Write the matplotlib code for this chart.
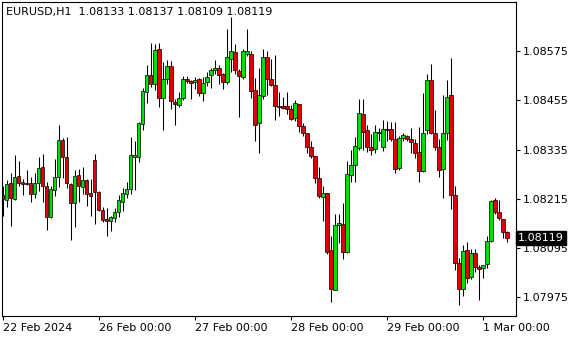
import numpy as np
import matplotlib
matplotlib.use("Agg")
import matplotlib.pyplot as plt
from matplotlib.transforms import blended_transform_factory

# EURUSD H1 candles, prices in points (1e-5)
opens = [108225, 108212, 108254, 108215, 108271, 108255, 108254, 108254, 108227, 108254,
         108293, 108247, 108170, 108236, 108269, 108359, 108318, 108252, 108205, 108274,
         108243, 108261, 108228, 108310, 108232, 108188, 108166, 108161, 108168, 108183,
         108208, 108226, 108238, 108317, 108318, 108398, 108476, 108518, 108494, 108580,
         108461, 108508, 108540, 108452, 108443, 108461, 108508, 108502, 108499, 108507,
         108474, 108501, 108516, 108529, 108533, 108519, 108501, 108557, 108574, 108527,
         108513, 108568, 108568, 108480, 108401, 108466, 108560, 108507, 108493, 108441,
         108441, 108441, 108433, 108413, 108445, 108393, 108375, 108342, 108320, 108266,
         108220, 108230, 108089, 107993, 108150, 108154, 108084, 108274, 108297, 108340,
         108421, 108382, 108342, 108337, 108376, 108342, 108384, 108384, 108362, 108290,
         108363, 108367, 108362, 108352, 108328, 108283, 108383, 108504, 108375, 108342,
         108288, 108376, 108467, 108225, 108059, 107994, 108089, 108023, 108083, 108049,
         108045, 108057, 108111, 108211, 108182, 108165, 108133]
highs = [108247, 108260, 108279, 108321, 108306, 108264, 108284, 108269, 108277, 108317,
         108323, 108255, 108247, 108313, 108394, 108364, 108366, 108254, 108286, 108287,
         108293, 108262, 108262, 108323, 108233, 108195, 108193, 108174, 108193, 108225,
         108241, 108255, 108365, 108355, 108402, 108486, 108541, 108596, 108592, 108594,
         108549, 108554, 108550, 108458, 108475, 108515, 108515, 108505, 108511, 108510,
         108511, 108524, 108533, 108554, 108541, 108521, 108629, 108658, 108592, 108531,
         108580, 108630, 108575, 108509, 108533, 108580, 108576, 108555, 108565, 108475,
         108463, 108475, 108444, 108455, 108446, 108401, 108375, 108355, 108320, 108293,
         108247, 108230, 108123, 108177, 108179, 108205, 108307, 108335, 108366, 108458,
         108458, 108396, 108374, 108396, 108388, 108406, 108405, 108402, 108402, 108368,
         108376, 108370, 108388, 108360, 108390, 108474, 108519, 108543, 108431, 108360,
         108467, 108504, 108558, 108247, 108071, 108101, 108110, 108093, 108093, 108053,
         108054, 108125, 108213, 108217, 108211, 108166, 108137]
lows = [108174, 108194, 108148, 108213, 108246, 108224, 108249, 108208, 108216, 108235,
        108207, 108138, 108168, 108221, 108243, 108265, 108241, 108115, 108146, 108208,
        108226, 108197, 108172, 108153, 108184, 108158, 108124, 108137, 108158, 108170,
        108186, 108216, 108226, 108236, 108304, 108383, 108449, 108487, 108480, 108439,
        108383, 108494, 108433, 108394, 108440, 108455, 108497, 108458, 108482, 108466,
        108453, 108489, 108485, 108519, 108494, 108482, 108494, 108524, 108519, 108415,
        108507, 108563, 108462, 108356, 108326, 108458, 108467, 108489, 108406, 108417,
        108433, 108421, 108406, 108404, 108379, 108369, 108326, 108314, 108253, 108216,
        108160, 108080, 107963, 107992, 108107, 108069, 108082, 108257, 108257, 108335,
        108335, 108328, 108321, 108326, 108357, 108331, 108357, 108357, 108278, 108285,
        108356, 108355, 108327, 108315, 108257, 108281, 108372, 108372, 108335, 108267,
        108217, 108358, 108189, 108040, 107955, 107979, 108010, 108020, 108037, 107967,
        108022, 108047, 108109, 108177, 108163, 108120, 108109]
closes = [108215, 108252, 108216, 108269, 108254, 108252, 108251, 108227, 108254, 108291,
          108247, 108170, 108239, 108269, 108359, 108317, 108254, 108205, 108271, 108247,
          108261, 108227, 108221, 108232, 108188, 108163, 108160, 108171, 108183, 108211,
          108230, 108238, 108321, 108321, 108399, 108477, 108518, 108494, 108577, 108461,
          108508, 108540, 108453, 108445, 108462, 108506, 108503, 108497, 108504, 108474,
          108498, 108513, 108529, 108533, 108518, 108500, 108560, 108575, 108528, 108515,
          108575, 108575, 108479, 108396, 108467, 108560, 108507, 108493, 108441, 108438,
          108436, 108433, 108410, 108448, 108392, 108375, 108342, 108319, 108265, 108221,
          108230, 108086, 107996, 108152, 108155, 108084, 108276, 108298, 108344, 108423,
          108379, 108342, 108334, 108379, 108379, 108384, 108383, 108362, 108288, 108364,
          108370, 108362, 108353, 108327, 108283, 108375, 108504, 108375, 108342, 108286,
          108376, 108464, 108223, 108059, 107996, 108088, 108021, 108083, 108049, 108044,
          108053, 108111, 108210, 108182, 108168, 108133, 108119]

tick_bars = [0, 24, 48, 72, 96, 120]
tick_labels = ["22 Feb 2024", "26 Feb 00:00", "27 Feb 00:00", "28 Feb 00:00",
               "29 Feb 00:00", "1 Mar 00:00"]
price_ticks = [1.08575, 1.08455, 1.08335, 1.08215, 1.08095, 1.07975]
title = "EURUSD,H1  1.08133 1.08137 1.08109 1.08119"

o = np.array(opens) / 1e5
h = np.array(highs) / 1e5
l = np.array(lows) / 1e5
c = np.array(closes) / 1e5
x = np.arange(len(o))

plt.rcParams["font.family"] = "DejaVu Sans"
plt.rcParams["font.size"] = 8

fig = plt.figure(figsize=(5.8, 3.4), dpi=100)
ax = fig.add_axes([2 / 580, 24 / 340, 514 / 580, 314 / 340])

cols = np.where(c >= o, "#00e000", "#e00000")
ax.vlines(x, l, h, color="black", linewidth=0.75, zorder=1)
ax.bar(x, np.abs(c - o), bottom=np.minimum(o, c), width=0.82, color=cols,
       edgecolor="black", linewidth=0.5, zorder=2)

ax.set_xlim(-0.2, 128.25)
ax.set_ylim(1.07929, 1.08695)

ax.set_xticks(tick_bars)
ax.set_xticklabels(tick_labels, ha="left")
ax.yaxis.tick_right()
ax.set_yticks(price_ticks)
ax.set_yticklabels([f"{p:.5f}" for p in price_ticks])
ax.tick_params(axis="both", direction="out", length=3, width=0.8, colors="black")
ax.tick_params(axis="x", pad=2)
ax.tick_params(axis="y", pad=2)
for s in ax.spines.values():
    s.set_linewidth(0.8)
    s.set_color("black")

fig.text(6 / 580, 1 - 12 / 340, title, va="center", ha="left", color="black")

tr = blended_transform_factory(ax.transAxes, ax.transData)
ax.text(1.004, c[-1], f"{c[-1]:.5f}", transform=tr, ha="left", va="center",
        color="white", zorder=5,
        bbox=dict(boxstyle="square,pad=0.2", fc="black", ec="black"))

fig.savefig("out.png", dpi=100)
